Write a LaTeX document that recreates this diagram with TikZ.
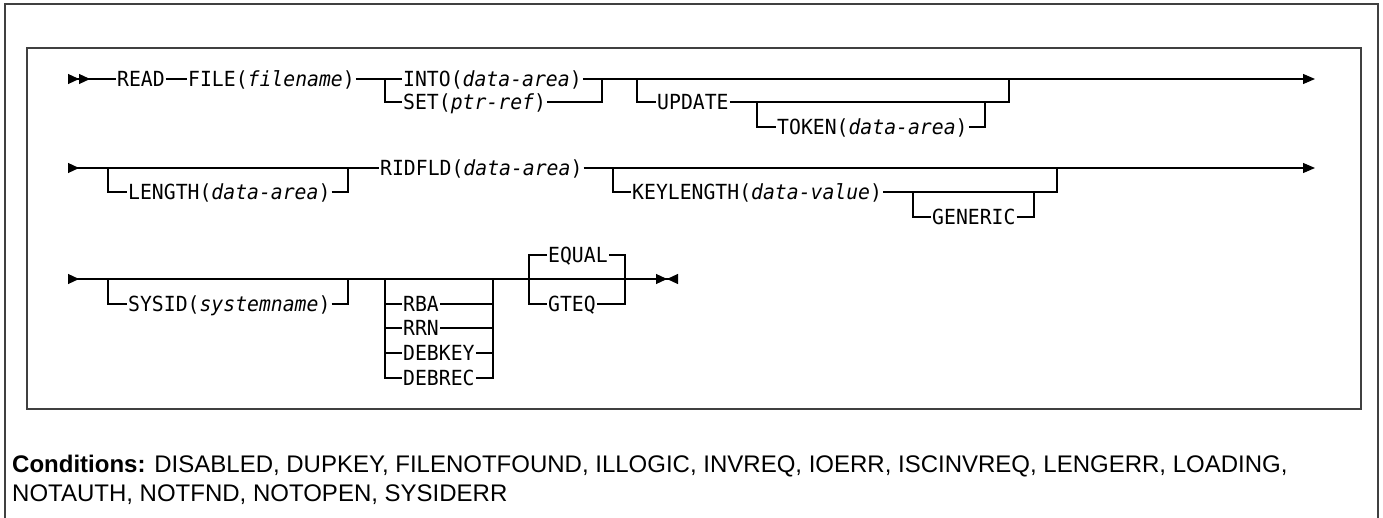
\documentclass[tikz,border=0pt]{standalone}
\usepackage{fontspec}
\setmainfont{Liberation Sans}
\newfontfamily\synfont[FakeStretch=0.95]{DejaVu Sans Mono}
\usetikzlibrary{arrows.meta,positioning}

\newcommand{\var}[1]{\textit{#1}}

\begin{document}
\begin{tikzpicture}[
    x=1pt, y=-1pt,
    kw/.style={anchor=west, inner xsep=1pt, inner ysep=0pt, text height=15pt, text depth=0pt,
        font=\synfont\fontsize{20.8}{24}\selectfont},
    rail/.style={draw, line width=1.2pt},
    frame/.style={draw=black!75, line width=1.4pt},
    go/.style={{Triangle[reversed,length=11pt,width=10pt]}-},
    gogo/.style={{Triangle[reversed,length=11pt,width=10pt] Triangle[reversed,length=11pt,width=10pt]}-},
    more/.style={-{Triangle[length=12pt,width=10pt]}},
    stop/.style={-{Triangle[length=11pt,width=10pt] Triangle[reversed,length=11pt,width=10pt]}},
    cond/.style={anchor=base west, inner sep=0pt, font=\fontsize{24}{28}\selectfont}
]
\useasboundingbox (0,0) rectangle (1383,518);

% frames
\draw[frame] (5,518) -- (5,4) -- (1378,4) -- (1378,518);
\draw[frame] (27,48) rectangle (1361,409);

% first line
\coordinate (st1) at (68,79);
\node[kw] (read) at (116,79) {READ};
\node[kw] (file) at (187,79) {FILE(\var{filename})};
\coordinate (b1) at (385,79);
\coordinate (b1s) at (385,102);
\node[kw] (into) at (402,79) {INTO(\var{data-area})};
\node[kw] (set) at (402,102) {SET(\var{ptr-ref})};
\coordinate (j1) at (602,79);
\coordinate (j1s) at (602,102);
\coordinate (u1) at (637,79);
\coordinate (u1s) at (637,102);
\node[kw] (update) at (656,102) {UPDATE};
\coordinate (t1) at (757,102);
\coordinate (t1s) at (757,127);
\node[kw] (token) at (776,127) {TOKEN(\var{data-area})};
\coordinate (t2s) at (985,127);
\coordinate (t2) at (985,102);
\coordinate (u2s) at (1009,102);
\coordinate (u2) at (1009,79);
\coordinate (e1) at (1315,79);

\draw[rail, gogo] (st1) -- (read);
\draw[rail] (read) -- (file) -- (b1) -- (into) -- (j1);
\draw[rail] (b1) -- (b1s) -- (set) -- (j1s) -- (j1);
\draw[rail, more] (j1) -- (e1);
\draw[rail] (u1) -- (u1s) -- (update) -- (u2s) -- (u2);
\draw[rail] (t1) -- (t1s) -- (token) -- (t2s) -- (t2);

% second line
\coordinate (st2) at (68,168);
\coordinate (l1) at (108,168);
\coordinate (l1s) at (108,192);
\node[kw] (length) at (127,192) {LENGTH(\var{data-area})};
\coordinate (l2s) at (348,192);
\coordinate (l2) at (348,168);
\node[kw] (ridfld) at (379,168) {RIDFLD(\var{data-area})};
\coordinate (k1) at (613,168);
\coordinate (k1s) at (613,192);
\node[kw] (keylen) at (631,192) {KEYLENGTH(\var{data-value})};
\coordinate (g1) at (913,192);
\coordinate (g1s) at (913,217);
\node[kw] (generic) at (931,217) {GENERIC};
\coordinate (g2s) at (1034,217);
\coordinate (g2) at (1034,192);
\coordinate (k2s) at (1057,192);
\coordinate (k2) at (1057,168);
\coordinate (e2) at (1315,168);

\draw[rail, go] (st2) -- (ridfld);
\draw[rail] (l1) -- (l1s) -- (length) -- (l2s) -- (l2);
\draw[rail, more] (ridfld) -- (e2);
\draw[rail] (k1) -- (k1s) -- (keylen) -- (k2s) -- (k2);
\draw[rail] (g1) -- (g1s) -- (generic) -- (g2s) -- (g2);

% third line
\coordinate (st3) at (68,279);
\coordinate (s1) at (108,279);
\coordinate (s1s) at (108,304);
\node[kw] (sysid) at (127,304) {SYSID(\var{systemname})};
\coordinate (s2s) at (348,304);
\coordinate (s2) at (348,279);
\coordinate (r1) at (385,279);
\coordinate (r2) at (493,279);
\node[kw] (rba) at (402,304) {RBA};
\node[kw] (rrn) at (402,328) {RRN};
\node[kw] (debkey) at (402,353) {DEBKEY};
\node[kw] (debrec) at (402,378) {DEBREC};
\coordinate (q1) at (529,279);
\coordinate (q2) at (625,279);
\node[kw] (equal) at (547,255) {EQUAL};
\node[kw] (gteq) at (547,304) {GTEQ};
\coordinate (e3) at (678,279);

\draw[rail, go] (st3) -- (s1);
\draw[rail, stop] (s1) -- (e3);
\draw[rail] (s1) -- (s1s) -- (sysid) -- (s2s) -- (s2);
\draw[rail] (r1) -- (debrec -| r1) -- (debrec) -- (debrec -| r2) -- (r2);
\foreach \o in {rba,rrn,debkey}
    \draw[rail] (\o -| r1) -- (\o) -- (\o -| r2);
\draw[rail] (equal) -- (equal -| q1) -- (gteq -| q1) -- (gteq) -- (gteq -| q2) -- (equal -| q2) -- (equal);

% conditions
\node[cond] (cond1) at (12,472) {\textbf{Conditions:} DISABLED, DUPKEY, FILENOTFOUND, ILLOGIC, INVREQ, IOERR, ISCINVREQ, LENGERR, LOADING,};
\node[cond] (cond2) at (12,501) {NOTAUTH, NOTFND, NOTOPEN, SYSIDERR};
\end{tikzpicture}
\end{document}
